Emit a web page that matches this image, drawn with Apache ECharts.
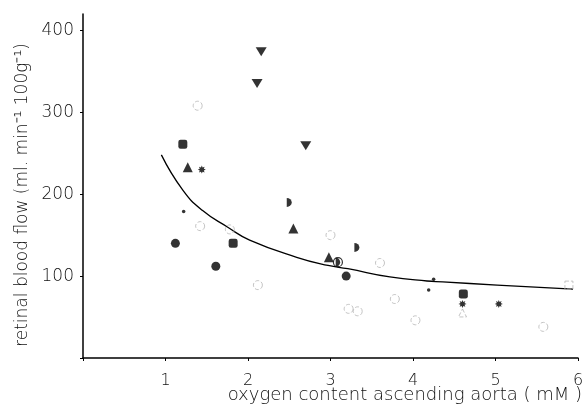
<!DOCTYPE html>
<html><head><meta charset="utf-8">
<script src="https://cdn.jsdelivr.net/npm/echarts@6/dist/echarts.min.js"></script>
<style>html,body{margin:0;padding:0;background:#fff}#c{width:582px;height:407px}</style>
</head><body><div id="c"></div>
<script>
const xTicks = [1, 2, 3, 4, 5, 6];
const yTicks = [100, 200, 300, 400];
const xTitle = 'oxygen content ascending aorta ( mM )';
const yTitle = 'retinal blood flow (ml. min\u207B\u00B9 100g\u207B\u00B9)';
const filledCircle = [[1.12,140],[1.61,112],[3.19,100]];
const filledSquare = [[1.21,261],[1.82,140],[4.61,78]];
const filledTriangle = [[1.27,233],[2.55,158],[2.98,123]];
const invTriangle = [[2.16,374],[2.11,335],[2.70,259]];
const starPts = [[1.44,230],[4.60,66],[5.04,66]];
const halfMoon = [[2.50,190],[3.32,135]];
const halfCircle = [[3.09,117]];
const smallDot = [[1.22,179],[4.25,96],[4.19,83]];
const openCircle = [[1.39,308],[1.42,161],[1.78,157],[2.12,89],[3.00,150],[3.60,116],[3.78,72],[3.22,60],[3.33,57],[4.03,46],[5.58,38]];
const openSquare = [[5.89,89]];
const openTriangle = [[4.60,55]];
const curvePts = [[0.95,248],[1.21,205],[1.45,180],[1.75,160],[2.02,144],[2.59,123],[2.97,113],[3.21,109],[3.72,99],[4.17,94],[4.36,93],[5.02,89],[5.94,84]];

function starPath(n, r1, r2){
  let s = 'path://';
  for(let i=0;i<2*n;i++){
    const a = Math.PI*i/n, r = i%2? r2 : r1;
    s += (i? 'L':'M') + (r*Math.sin(a)).toFixed(3) + ',' + (-r*Math.cos(a)).toFixed(3) + ' ';
  }
  return s + 'Z';
}
const halfDisk = 'path://M0,-1 A1,1 0 0 1 0,1 Z';
const font = 'DejaVu Sans';
const fw = 200;
const chart = echarts.init(document.getElementById('c'));
function sc(data, symbol, size, style, z, rot){
  return {type:'scatter', data, symbol, symbolSize:size, symbolRotate:rot||0, itemStyle:style, z:z||3, silent:true};
}
const faint = {color:'rgba(0,0,0,0)', borderColor:'#b5b5b5', borderWidth:1, borderType:'dashed'};
chart.setOption({
  animation:false,
  grid:{left:83, right:4, top:14, bottom:49, containLabel:false, outerBoundsMode:'none'},
  graphic:[
    {type:'text', right:0, top:386, silent:true,
      style:{text:xTitle, fontFamily:font, fontWeight:fw, fontSize:18, fill:'#111'}},
    {type:'text', x:23, y:195, rotation:Math.PI/2, silent:true,
      style:{text:yTitle, fontFamily:font, fontWeight:fw, fontSize:17, fill:'#111', align:'center', verticalAlign:'middle'}}
  ],
  xAxis:{type:'value', min:0, max:6, interval:1,
    axisLine:{lineStyle:{color:'#000', width:1.5}},
    axisTick:{show:true, length:3, inside:false, lineStyle:{color:'#000'}},
    splitLine:{show:false},
    axisLabel:{fontFamily:font, fontWeight:fw, fontSize:16, color:'#111', margin:15,
      formatter:v => xTicks.includes(v) ? String(v) : ''}},
  yAxis:{type:'value', min:0, max:420, interval:100,
    axisLine:{show:true, lineStyle:{color:'#000', width:1.5}},
    axisTick:{show:true, length:3, lineStyle:{color:'#000'}},
    splitLine:{show:false},
    axisLabel:{fontFamily:font, fontWeight:fw, fontSize:17, color:'#111', margin:9, showMaxLabel:false,
      formatter:v => yTicks.includes(v) ? String(v) : ''}},
  series:[
    {type:'line', data:curvePts, smooth:true, symbol:'none', lineStyle:{color:'#000', width:1.3}, z:2, silent:true},
    sc(openCircle, 'circle', 9, faint),
    sc(openSquare, 'rect', 8, faint),
    sc(openTriangle, 'triangle', 8, faint),
    sc(filledCircle, 'circle', 9, {color:'#000'}),
    sc(filledSquare, 'roundRect', 9, {color:'#000'}),
    sc(filledTriangle, 'triangle', 10, {color:'#000'}),
    sc(invTriangle, 'triangle', [11,9], {color:'#000'}, 3, 180),
    sc(starPts, starPath(8,1,0.55), 8, {color:'#000'}),
    sc(halfMoon, halfDisk, [5,9], {color:'#000'}),
    sc(halfCircle, 'circle', 9, {color:'#fff', borderColor:'#000', borderWidth:1.2}),
    sc(halfCircle, halfDisk, [4.5,9], {color:'#000'}, 4),
    sc(smallDot, 'circle', 3.5, {color:'#000'})
  ]
});
</script></body></html>
